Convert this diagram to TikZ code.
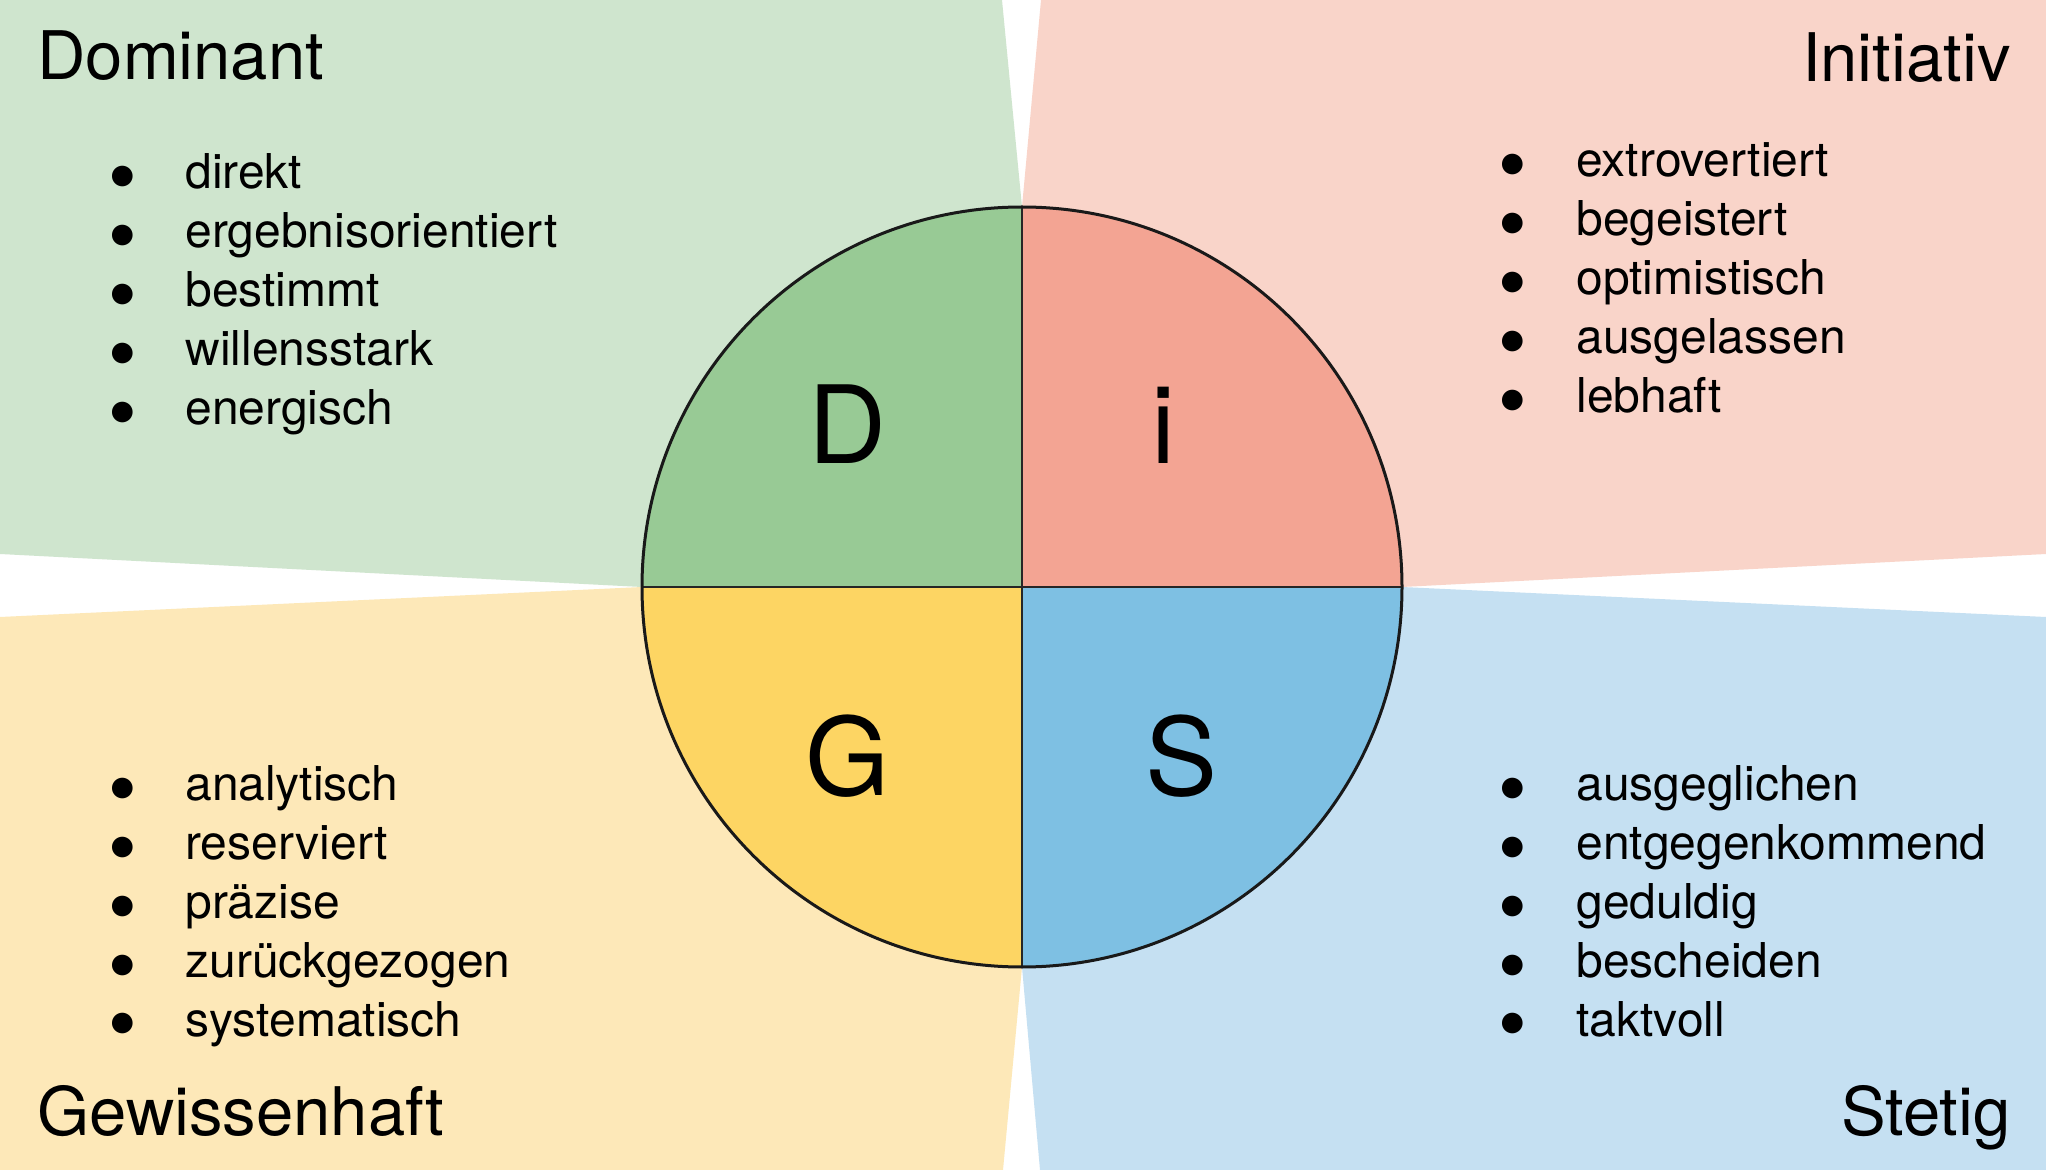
\documentclass[tikz,border=0pt]{standalone}
\usepackage{fontspec}
\setmainfont{TeX Gyre Heros}
\newfontfamily\symbolschrift{DejaVu Sans}
\usepackage{xcolor}

\definecolor{gruenhell}{HTML}{CFE5CE}
\definecolor{rothell}{HTML}{F9D4C9}
\definecolor{gelbhell}{HTML}{FDE8B8}
\definecolor{blauhell}{HTML}{C5E0F2}
\definecolor{gruen}{HTML}{98CA95}
\definecolor{rot}{HTML}{F3A493}
\definecolor{gelb}{HTML}{FDD563}
\definecolor{blau}{HTML}{7EC0E3}

\newcommand{\punkt}{\makebox[0pt]{\raisebox{2.5pt}{\fontsize{13.5}{14}\symbolschrift ●}}}

\begin{document}
\begin{tikzpicture}[x=0.5pt, y=-0.5pt,
    titel/.style={inner sep=0pt, font=\fontsize{33.5}{40}\selectfont},
    buchstabe/.style={inner sep=0pt, anchor=base, font=\fontsize{54}{60}\selectfont},
    liste/.style={inner sep=0pt, anchor=base west, font=\fontsize{24}{29.5}\selectfont},
    kreuz/.style={draw=black!85, line width=1pt},
    kreislinie/.style={draw=black!90, line width=1.5pt}]

    \path[fill=white, use as bounding box] (0,0) rectangle (2046,1170);

    \coordinate (m) at (1022,587);
    \coordinate (oben) at (1022,207);
    \coordinate (unten) at (1022,967);
    \coordinate (links) at (642,587);
    \coordinate (rechts) at (1402,587);

    % Hintergrundflaechen
    \fill[gruenhell] (0,0) -- (1002,0) -- (oben) -- (m) -- (links) -- (0,554) -- cycle;
    \fill[rothell] (1041,0) -- (2046,0) -- (2046,554) -- (rechts) -- (m) -- (oben) -- cycle;
    \fill[gelbhell] (0,617) -- (links) -- (m) -- (unten) -- (1003,1170) -- (0,1170) -- cycle;
    \fill[blauhell] (1040,1170) -- (2046,1170) -- (2046,617) -- (rechts) -- (m) -- (unten) -- cycle;

    % Kreis mit vier Vierteln
    \begin{scope}
        \clip (m) circle[radius=380];
        \fill[gruen] (m) rectangle (links |- oben);
        \fill[rot] (m) rectangle (rechts |- oben);
        \fill[gelb] (m) rectangle (links |- unten);
        \fill[blau] (m) rectangle (rechts |- unten);
    \end{scope}
    \path[kreuz] (oben) -- (unten);
    \path[kreuz] (links) -- (rechts);
    \path[kreislinie] (m) circle[radius=380];

    \node[buchstabe] (d) at (847,464) {D};
    \node[buchstabe] (i) at (1163,464) {i};
    \node[buchstabe] (g) at (848,795) {G};
    \node[buchstabe] (s) at (1182,795) {S};

    \node[titel, anchor=base west] (dominant) at (37,80) {Dominant};
    \node[titel, anchor=base east] (initiativ) at (2011,82) {Initiativ};
    \node[titel, anchor=base west] (gewissenhaft) at (37,1135) {Gewissenhaft};
    \node[titel, anchor=base east] (stetig) at (2011,1135) {Stetig};

    \node[liste] (dliste) at (122,189) {\begin{tabular}[t]{@{}c@{\hspace{31.5pt}}l@{}}
        \punkt & direkt\\ \punkt & ergebnisorientiert\\ \punkt & bestimmt\\
        \punkt & willensstark\\ \punkt & energisch\end{tabular}};
    \node[liste] (iliste) at (1512,177) {\begin{tabular}[t]{@{}c@{\hspace{32pt}}l@{}}
        \punkt & extrovertiert\\ \punkt & begeistert\\ \punkt & optimistisch\\
        \punkt & ausgelassen\\ \punkt & lebhaft\end{tabular}};
    \node[liste] (gliste) at (122,800) {\begin{tabular}[t]{@{}c@{\hspace{31.5pt}}l@{}}
        \punkt & analytisch\\ \punkt & reserviert\\ \punkt & präzise\\
        \punkt & zurückgezogen\\ \punkt & systematisch\end{tabular}};
    \node[liste] (sliste) at (1512,800) {\begin{tabular}[t]{@{}c@{\hspace{32pt}}l@{}}
        \punkt & ausgeglichen\\ \punkt & entgegenkommend\\ \punkt & geduldig\\
        \punkt & bescheiden\\ \punkt & taktvoll\end{tabular}};
\end{tikzpicture}
\end{document}
